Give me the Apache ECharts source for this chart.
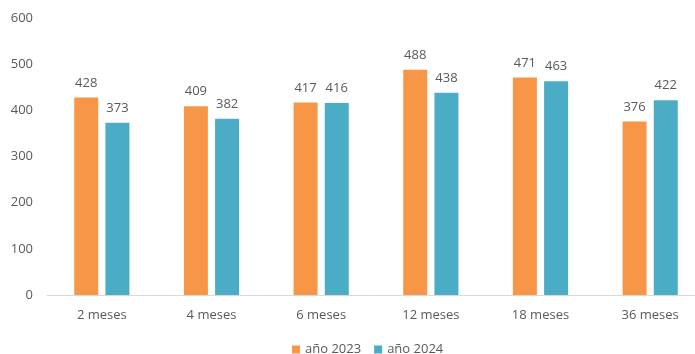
<!DOCTYPE html>
<html>
<head>
<meta charset="utf-8">
<script src="https://cdn.jsdelivr.net/npm/echarts@6/dist/echarts.min.js"></script>
<style>
  html, body { margin: 0; padding: 0; background: #fff; }
  #chart { width: 695px; height: 354px; }
</style>
</head>
<body>
<div id="chart"></div>
<script>
const categories = ['2 meses', '4 meses', '6 meses', '12 meses', '18 meses', '36 meses']
const serie2023 = [428, 409, 417, 488, 471, 376]
const serie2024 = [373, 382, 416, 438, 463, 422]
const yTicks = [0, 600, 100]

const font = 'Open Sans'
const textColor = '#595959'

const chart = echarts.init(document.getElementById('chart'))
const labelStyle = {
  show: true,
  position: 'top',
  distance: 8,
  color: textColor,
  fontFamily: font,
  fontSize: 13
}
chart.setOption({
  animation: false,
  grid: { left: 47, top: 18, bottom: 59, width: 658, outerBoundsMode: 'none' },
  legend: {
    bottom: -7,
    left: 287,
    icon: 'rect',
    itemWidth: 8,
    itemHeight: 8,
    itemGap: 13,
    textStyle: { color: textColor, fontFamily: font, fontSize: 13 },
    data: ['año 2023', 'año 2024']
  },
  xAxis: {
    type: 'category',
    data: categories,
    axisTick: { show: false },
    axisLine: { lineStyle: { color: '#d9d9d9' } },
    axisLabel: { color: textColor, fontFamily: font, fontSize: 13, margin: 14 }
  },
  yAxis: {
    type: 'value',
    min: yTicks[0],
    max: yTicks[1],
    interval: yTicks[2],
    splitLine: { show: false },
    axisLabel: { color: textColor, fontFamily: font, fontSize: 13, margin: 14 }
  },
  series: [
    {
      name: 'año 2023',
      type: 'bar',
      data: serie2023,
      barWidth: 24,
      barGap: '30%',
      itemStyle: { color: '#F79646' },
      label: labelStyle
    },
    {
      name: 'año 2024',
      type: 'bar',
      data: serie2024,
      barWidth: 24,
      itemStyle: { color: '#4BACC6' },
      label: labelStyle
    }
  ]
})
</script>
</body>
</html>
